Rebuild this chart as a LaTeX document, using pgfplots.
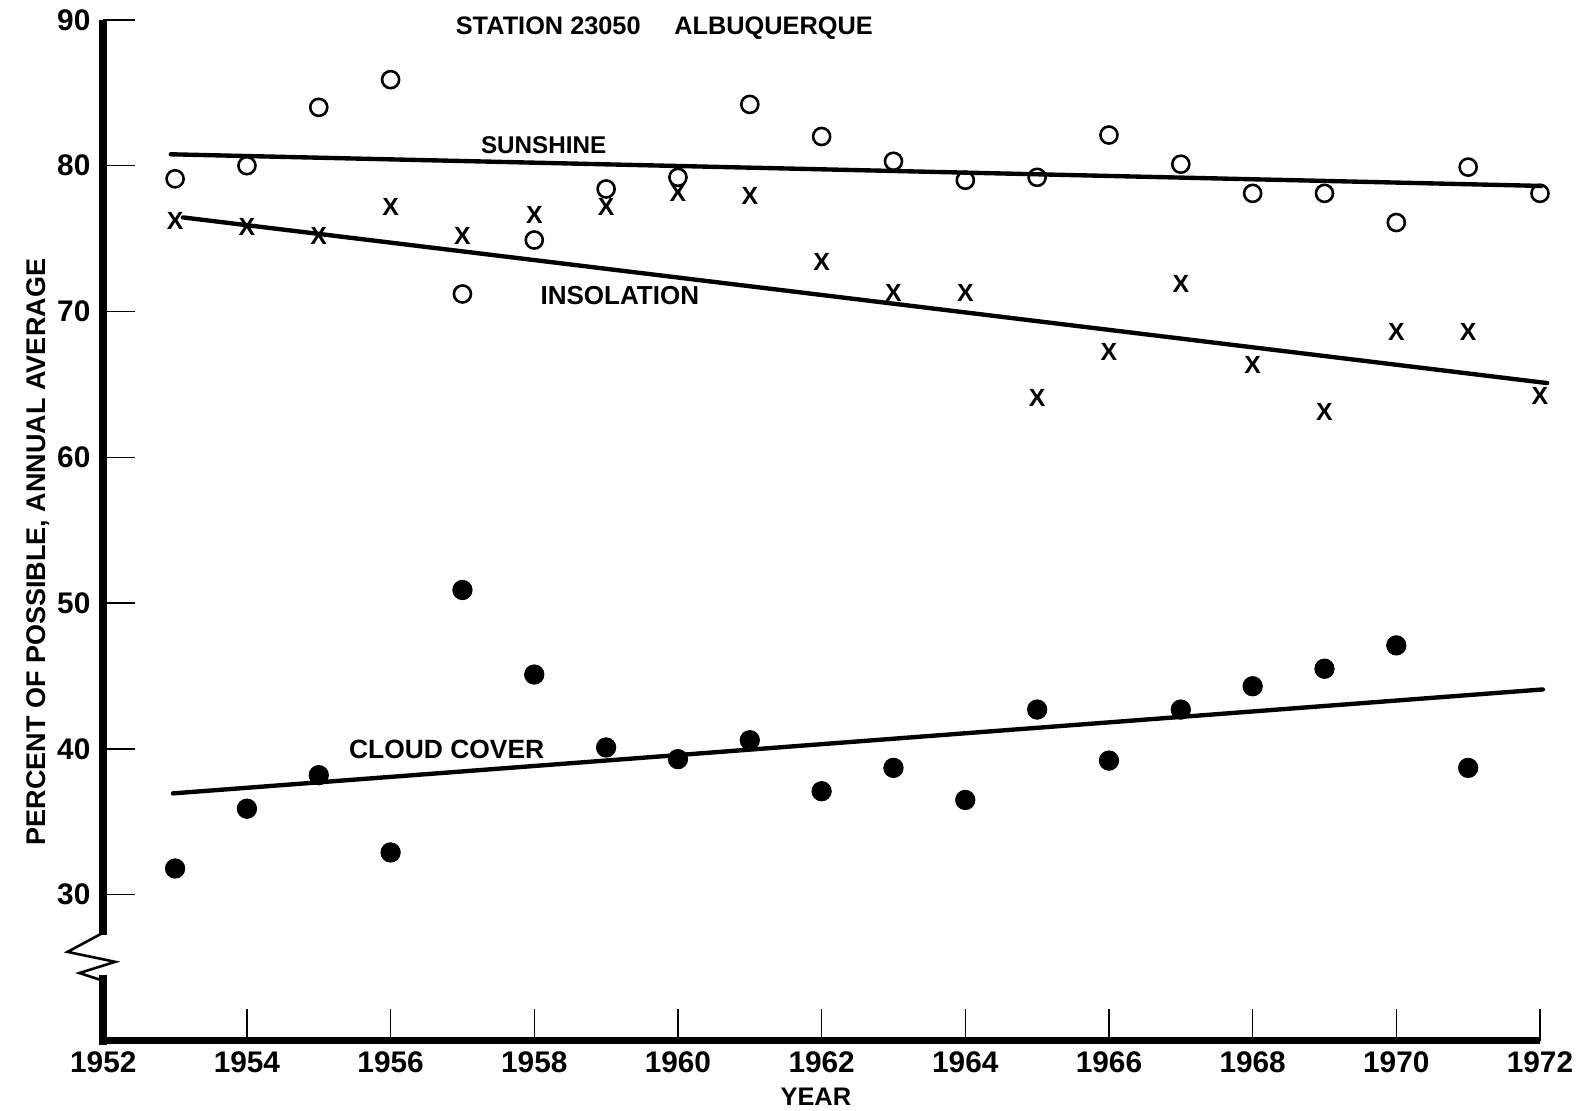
\documentclass[border=0pt]{standalone}
\usepackage{fontspec}
\setmainfont{Liberation Sans}
\usepackage{pgfplots}
\pgfplotsset{compat=1.18}
\begin{document}
\begin{tikzpicture}
\begin{axis}[
  at={(0pt,0pt)}, anchor=south west,
  scale only axis,
  width=723.5pt, height=514pt,
  xmin=1952, xmax=1972, ymin=20, ymax=90,
  enlargelimits=false,
  clip=false,
  axis x line=bottom, axis y line=left,
  axis line style={-},
  x axis line style={line width=3.8pt},
  y axis line style={draw=none},
  tick align=inside,
  major tick length=16pt,
  tick style={black, line width=0.75pt},
  xtick={1952,1954,...,1972},
  ytick={30,40,...,90},
  minor tick num=0,
  scaled x ticks=false,
  /pgf/number format/1000 sep={},
  /pgf/number format/assume math mode=true,
  tick label style={font=\bfseries\fontsize{15}{17}\selectfont},
  xticklabel style={anchor=base, yshift=-16.3pt},
  yticklabel style={anchor=east, inner sep=0pt, xshift=-6.3pt},
]
% trend lines
\addplot[black, line width=2.2pt, line cap=round, no marks] coordinates {(1952.94,80.78) (1972.02,78.61)};
\addplot[black, line width=2.2pt, line cap=round, no marks] coordinates {(1953.11,76.45) (1972.10,65.09)};
\addplot[black, line width=2.2pt, line cap=round, no marks] coordinates {(1952.97,36.95) (1972.04,44.08)};
% sunshine
\addplot[only marks, mark=o, mark size=4.3pt, mark options={line width=1.3pt, draw=black, fill=white}] coordinates {
(1953,79.1) (1954,80.0) (1955,84.0) (1956,85.9) (1957,71.2) (1958,74.9) (1959,78.4) (1960,79.2) (1961,84.2) (1962,82.0)
(1963,80.3) (1964,79.0) (1965,79.2) (1966,82.1) (1967,80.1) (1968,78.1) (1969,78.1) (1970,76.1) (1971,79.9) (1972,78.1)};
% insolation
\addplot[only marks, mark=text, text mark as node=true, text mark={\bfseries\fontsize{12.5}{13}\selectfont X}, text mark style={inner sep=0pt, anchor=center}] coordinates {
(1953,76.2) (1954,75.8) (1955,75.2) (1956,77.2) (1957,75.2) (1958,76.6) (1959,77.2) (1960,78.1) (1961,77.9) (1962,73.4)
(1963,71.3) (1964,71.3) (1965,64.1) (1966,67.2) (1967,71.9) (1968,66.3) (1969,63.1) (1970,68.6) (1971,68.6) (1972,64.2)};
% cloud cover
\addplot[only marks, mark=*, mark size=4.9pt, mark options={draw=black, fill=black}] coordinates {
(1953,31.8) (1954,35.9) (1955,38.2) (1956,32.9) (1957,50.9) (1958,45.1) (1959,40.1) (1960,39.3) (1961,40.6) (1962,37.1)
(1963,38.7) (1964,36.5) (1965,42.7) (1966,39.2) (1967,42.7) (1968,44.3) (1969,45.5) (1970,47.1) (1971,38.7)};
% left axis with break
\draw[line width=4.2pt] (axis cs:1952,90) -- (axis cs:1952,27.26);
\draw[line width=1.3pt, line join=miter] (axis cs:1952,27.4) -- ([xshift=-18pt]axis cs:1952,26.08) -- ([xshift=6pt]axis cs:1952,25.4) -- ([xshift=-12pt]axis cs:1952,24.63) -- (axis cs:1952,24.1);
\draw[line width=4.2pt, line cap=rect] (axis cs:1952,24.19) -- (axis cs:1952,20);
% labels
\node[anchor=base, font=\bfseries\fontsize{12.75}{15}\selectfont] at (axis cs:1959.81,89.0) {STATION 23050\hspace{17pt}ALBUQUERQUE};
\node[font=\bfseries\fontsize{12.2}{14}\selectfont] at (axis cs:1958.13,81.42) {SUNSHINE};
\node[font=\bfseries\fontsize{13.1}{15}\selectfont] at (axis cs:1959.19,71.09) {INSOLATION};
\node[font=\bfseries\fontsize{13.3}{15}\selectfont] at (axis cs:1956.78,39.98) {CLOUD COVER};
\node[anchor=base, font=\bfseries\fontsize{12.8}{15}\selectfont] at ([yshift=-32.5pt]axis cs:1961.92,20) {YEAR};
\node[rotate=90, anchor=base, font=\bfseries\fontsize{13.6}{15}\selectfont] at ([xshift=-29pt]axis cs:1952,53.5) {PERCENT OF POSSIBLE, ANNUAL AVERAGE};
\end{axis}
\pgfresetboundingbox
\useasboundingbox (-52pt,-35pt) rectangle (750.7pt,524pt);
\end{tikzpicture}
\end{document}
